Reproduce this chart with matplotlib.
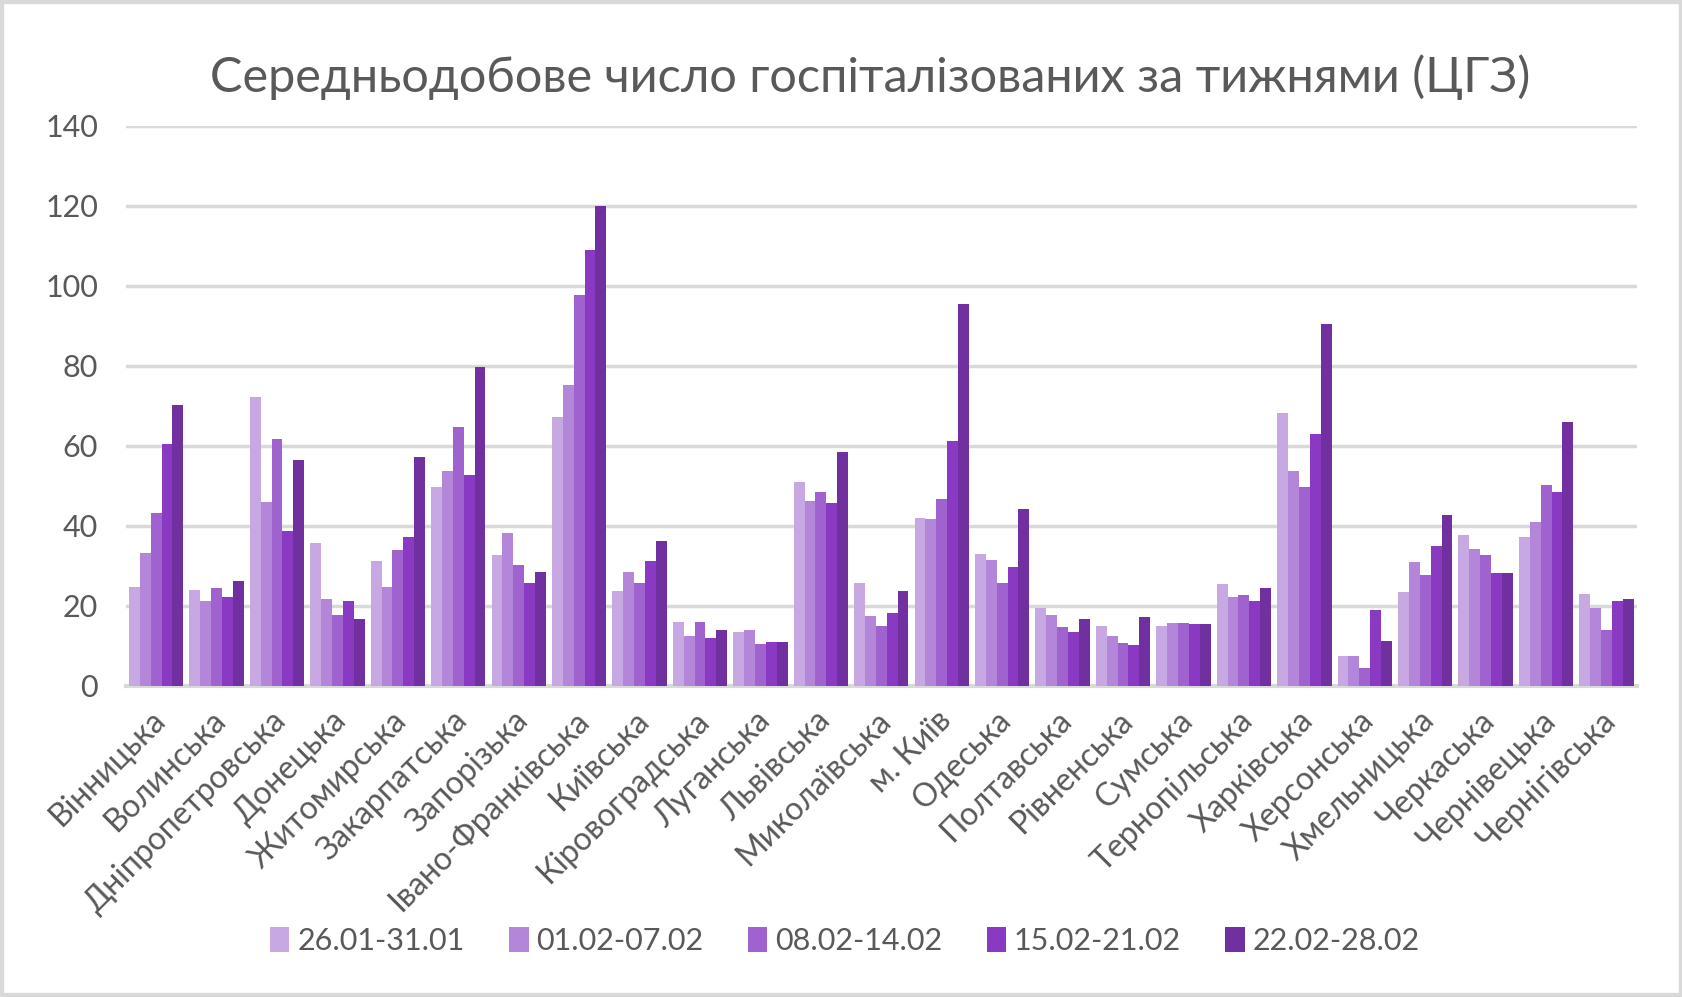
import numpy as np
import matplotlib
matplotlib.use("Agg")
import matplotlib.pyplot as plt
from matplotlib.patches import Rectangle
from matplotlib.transforms import ScaledTranslation

plt.rcParams['font.family'] = ['Lato', 'DejaVu Sans']

regions = ['Вінницька', 'Волинська', 'Дніпропетровська', 'Донецька', 'Житомирська',
           'Закарпатська', 'Запорізька', 'Івано-Франківська', 'Київська', 'Кіровоградська',
           'Луганська', 'Львівська', 'Миколаївська', 'м. Київ', 'Одеська', 'Полтавська',
           'Рівненська', 'Сумська', 'Тернопільська', 'Харківська', 'Херсонська',
           'Хмельницька', 'Черкаська', 'Чернівецька', 'Чернігівська']

weeks = ['26.01-31.01', '01.02-07.02', '08.02-14.02', '15.02-21.02', '22.02-28.02']

w1 = [24.8, 24.0, 72.3, 35.8, 31.2, 49.6, 32.6, 67.2, 23.8, 15.9, 13.6, 51.0, 25.6, 41.9,
      32.9, 19.5, 14.9, 14.9, 25.4, 68.3, 7.5, 23.5, 37.7, 37.3, 23.0]
w2 = [33.2, 21.3, 45.9, 21.7, 24.8, 53.7, 38.1, 75.3, 28.4, 12.4, 14.0, 46.2, 17.4, 41.6,
      31.5, 17.8, 12.6, 15.8, 22.3, 53.8, 7.5, 30.9, 34.1, 41.0, 19.5]
w3 = [43.2, 24.4, 61.8, 17.6, 34.0, 64.6, 30.3, 97.6, 25.7, 15.9, 10.6, 48.4, 15.0, 46.6,
      25.6, 14.7, 10.8, 15.8, 22.7, 49.7, 4.4, 27.7, 32.7, 50.1, 14.0]
w4 = [60.5, 22.2, 38.6, 21.2, 37.2, 52.8, 25.8, 109.0, 31.1, 11.9, 10.9, 45.7, 18.3, 61.3,
      29.7, 13.4, 10.3, 15.4, 21.3, 62.9, 18.9, 35.0, 28.1, 48.4, 21.2]
w5 = [70.1, 26.3, 56.4, 16.7, 57.3, 79.8, 28.5, 120.0, 36.1, 14.1, 10.9, 58.4, 23.7, 95.4,
      44.3, 16.6, 17.1, 15.4, 24.5, 90.4, 11.3, 42.7, 28.1, 66.0, 21.7]

series = [w1, w2, w3, w4, w5]
colors = ['#C8A8E2', '#B386DA', '#A062CF', '#8A3AC2', '#7030A0']
text_color = '#595959'
grid_color = '#D9D9D9'

fig = plt.figure(figsize=(16.83, 9.97), dpi=100)
ax = fig.add_axes([0.0748, 0.312, 0.8977, 0.562])

x = np.arange(len(regions))
bw = 0.18
for i, (vals, col) in enumerate(zip(series, colors)):
    ax.bar(x + (i - 2) * bw, vals, width=bw, color=col, label=weeks[i], zorder=3)

ax.set_xlim(-0.5, len(regions) - 0.5)
ax.set_ylim(0, 140)
ax.set_yticks(range(0, 141, 20))
ax.yaxis.grid(True, color=grid_color, linewidth=2.5, zorder=0)
ax.set_axisbelow(True)

for s in ['top', 'right', 'left']:
    ax.spines[s].set_visible(False)
ax.spines['bottom'].set_color(grid_color)
ax.spines['bottom'].set_linewidth(3)

ax.tick_params(axis='y', length=0, pad=20, labelsize=22, labelcolor=text_color)
ax.tick_params(axis='x', length=0, pad=14, labelsize=23, labelcolor=text_color)
ax.set_xticks(x)
ax.set_xticklabels(regions, rotation=45, ha='right', rotation_mode='anchor')
shift = ScaledTranslation(-6 / 100, 0, fig.dpi_scale_trans)
for lab in ax.get_xticklabels():
    lab.set_transform(lab.get_transform() + shift)

fig.text(0.517, 0.923, 'Середньодобове число госпіталізованих за тижнями (ЦГЗ)',
         ha='center', va='center', fontsize=35, color=text_color)

fig.legend(loc='center', bbox_to_anchor=(0.502, 0.056), ncol=5, frameon=False,
           fontsize=22, handlelength=0.65, handleheight=0.9, handletextpad=0.25,
           columnspacing=1.45, labelcolor=text_color)

fig.patches.append(Rectangle((0, 0), 1, 1, transform=fig.transFigure, fill=False,
                             edgecolor='#D9D9D9', linewidth=6))

fig.savefig('out.png', dpi=100)
